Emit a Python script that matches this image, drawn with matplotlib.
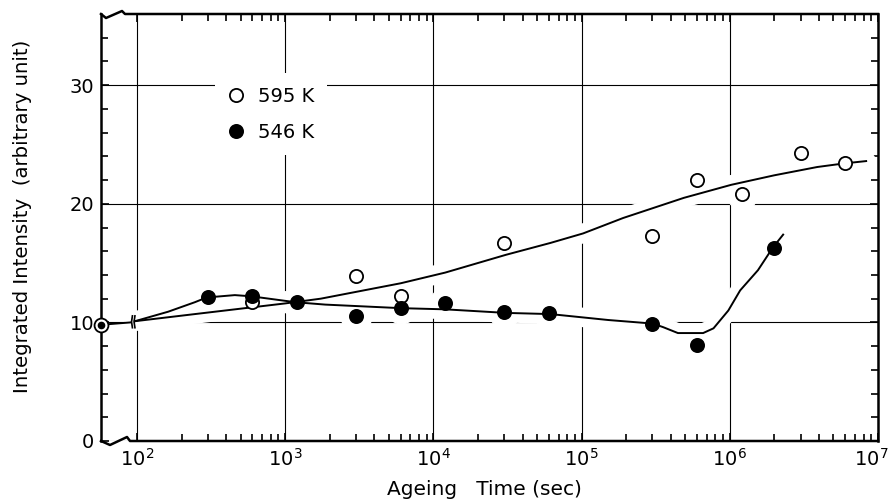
import numpy as np
import matplotlib
matplotlib.use('Agg')
import matplotlib.pyplot as plt
from matplotlib.ticker import FixedLocator, FuncFormatter, NullFormatter
from matplotlib.lines import Line2D

plt.rcParams['font.family'] = 'DejaVu Sans'
plt.rcParams['mathtext.default'] = 'regular'

# measured points (ageing time in sec, intensity)
t_595 = [600, 3000, 6000, 3e4, 3e5, 6e5, 1.2e6, 3e6, 6e6]
v_595 = [11.7, 13.9, 12.2, 16.7, 17.3, 22.0, 20.8, 24.3, 23.4]

t_546 = [300, 600, 1200, 3000, 6000, 1.2e4, 3e4, 6e4, 3e5, 6e5, 2e6]
v_546 = [12.1, 12.2, 11.7, 10.5, 11.2, 11.6, 10.9, 10.8, 9.9, 8.1, 16.3]

# t = 0 value (same for both temperatures), drawn at the start of the broken axis
v_zero = 9.8

# hand drawn curves as (log10 t, intensity)
curve_595_logt = [1.986, 2.39, 3.0, 3.24, 3.78, 4.08, 4.49, 4.79, 5.01, 5.28,
                  5.69, 6.01, 6.30, 6.59, 6.77, 6.92]
curve_595_v = [10.1, 10.7, 11.6, 12.0, 13.3, 14.2, 15.7, 16.7, 17.5, 18.8,
               20.5, 21.6, 22.4, 23.1, 23.4, 23.6]

curve_546_logt = [1.986, 2.21, 2.39, 2.47, 2.66, 2.77, 3.07, 3.27, 3.78, 4.08,
                  4.49, 4.79, 5.18, 5.48, 5.55, 5.65, 5.82, 5.89, 5.99, 6.07,
                  6.19, 6.29, 6.36]
curve_546_v = [10.1, 10.9, 11.7, 12.1, 12.3, 12.2, 11.7, 11.5, 11.2, 11.1,
               10.8, 10.7, 10.2, 9.9, 9.6, 9.1, 9.1, 9.5, 11.0, 12.7,
               14.4, 16.3, 17.4]

# short lead-in from the t = 0 point up to the break
lead_logt = [1.757, 1.959]
lead_v = [9.8, 10.0]

decades = [2, 3, 4, 5, 6, 7]
yticks = [0, 10, 20, 30]

# figure layout in pixels
W, H = 890, 503
L, R, T, B = 101, 878, 14, 441

fig = plt.figure(figsize=(W / 100, H / 100), dpi=100)
ax = fig.add_axes([L / W, 1 - B / H, (R - L) / W, (B - T) / H])
ax.set_xscale('log')
t_left = 10 ** lead_logt[0]
ax.set_xlim(t_left, 1e7)
ax.set_ylim(0, 36)

# ticks
ax.xaxis.set_major_locator(FixedLocator([10.0 ** d for d in decades]))
ax.xaxis.set_minor_locator(FixedLocator([m * 10.0 ** d for d in decades[:-1] for m in range(2, 10)]))
ax.xaxis.set_major_formatter(FuncFormatter(
    lambda x, p: '' if x >= 1e7 else '$10^{%d}$' % round(np.log10(x))))
ax.xaxis.set_minor_formatter(NullFormatter())
ax.yaxis.set_major_locator(FixedLocator(yticks))
ax.yaxis.set_minor_locator(FixedLocator([v for v in range(2, 36, 2) if v % 10]))
ax.tick_params(which='both', direction='in', top=True, right=True, width=1.2, labelsize=14)
ax.tick_params(which='major', length=6)
ax.tick_params(which='minor', length=5)
ax.tick_params(axis='x', pad=5)
ax.tick_params(axis='y', pad=5)
# last decade label sits on the right edge, nudge it in a little
ax.annotate('$10^{7}$', xy=(1e7, 0), xycoords=('data', 'axes fraction'),
            xytext=(-5, -5), textcoords='offset points', ha='center', va='top', fontsize=14)

ax.grid(which='major', color='black', lw=0.8)

# frame with the axis-break zigzags
for s in ax.spines.values():
    s.set_visible(False)
fx = lambda px: px / (R - L)
fy = lambda px: px / (B - T)
frame_kw = dict(transform=ax.transAxes, color='black', lw=1.8, clip_on=False, zorder=6)
ax.add_line(Line2D([0, 0], [0, 1], **frame_kw))
ax.add_line(Line2D([1, 1], [0, 1], **frame_kw))
ax.add_line(Line2D([0, fx(9), fx(26), fx(29), 1],
                   [0, fy(-4), fy(4), 0, 0], **frame_kw))
ax.add_line(Line2D([0, fx(5), fx(21), fx(24), 1],
                   [1, 1 - fy(4), 1 + fy(3), 1, 1], **frame_kw))

# grid lines are broken where curves and points cross them (drafting style)
halo = dict(color='white', solid_capstyle='round', zorder=1.8)
ax.plot(np.power(10, curve_595_logt), curve_595_v, lw=14, **halo)
ax.plot(np.power(10, curve_546_logt), curve_546_v, lw=14, **halo)
ax.plot(t_595 + t_546, v_595 + v_546, 'o', ms=22, mfc='white', mec='white', zorder=1.8)

# curves
ax.plot(np.power(10, lead_logt), lead_v, color='black', lw=1.4)
ax.plot(np.power(10, curve_595_logt), curve_595_v, color='black', lw=1.4)
ax.plot(np.power(10, curve_546_logt), curve_546_v, color='black', lw=1.4)
for lt in [1.963, 1.980]:
    ax.plot(np.power(10, [lt + 0.006, lt, lt + 0.006]), [9.55, 10.05, 10.55],
            color='black', lw=1.2)

# points
ax.plot(t_595, v_595, 'o', ms=9.5, mfc='white', mec='black', mew=1.3, zorder=4)
ax.plot(t_546, v_546, 'o', ms=9.5, mfc='black', mec='black', mew=1.3, zorder=5)
ax.plot(t_left, v_zero, 'o', ms=10, mfc='white', mec='black', mew=1.3, clip_on=False, zorder=7)
ax.plot(t_left, v_zero, 'o', ms=4.5, color='black', clip_on=False, zorder=8)

handles = [Line2D([], [], ls='none', marker='o', ms=9.5, mfc='white', mec='black', mew=1.3),
           Line2D([], [], ls='none', marker='o', ms=9.5, mfc='black', mec='black', mew=1.3)]
leg = ax.legend(handles, ['595 K', '546 K'], loc='center', bbox_to_anchor=(0.219, 0.765),
                frameon=True, fancybox=False, edgecolor='none', facecolor='white', framealpha=1,
                fontsize=14, handlelength=0.8, handletextpad=0.7, labelspacing=0.86, borderpad=0.7)

ax.set_xlabel('Ageing   Time (sec)', fontsize=14.5)
ax.xaxis.set_label_coords(0.493, -0.092)
ax.set_ylabel('Integrated Intensity  (arbitrary unit)', fontsize=14.2)
ax.yaxis.set_label_coords(-0.089, 0.527)

fig.savefig('out.png', dpi=100)
